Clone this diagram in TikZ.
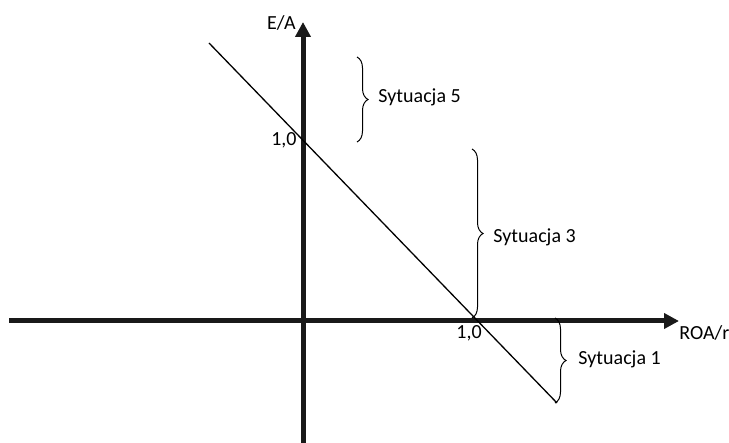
\documentclass[tikz,border=0pt]{standalone}
\usepackage{fontspec}
\setmainfont{Carlito}
\usetikzlibrary{arrows.meta,decorations.pathreplacing}

\begin{document}
\begin{tikzpicture}[x=0.5pt, y=-0.5pt,
  >={Triangle[length=7.5pt,width=7.5pt]},
  axis/.style={line width=2.5pt, black!90},
  sbrace/.style={decorate, decoration={brace, amplitude=5.5pt}, line width=0.5pt},
  lbl/.style={inner sep=0pt, font=\fontsize{10}{12}\selectfont}]
  \useasboundingbox (0,0) rectangle (729,443);

  % Axes
  \coordinate (xmin) at (9,321);
  \coordinate (xmax) at (679,321);
  \coordinate (ymin) at (303,443);
  \coordinate (ymax) at (303,22);
  \draw[axis,->] (xmin) -- (xmax);
  \draw[axis,->] (ymin) -- (ymax);
  \node[lbl, anchor=east] (ylab) at (296,23) {E/A};
  \node[lbl, anchor=west] (xlab) at (679,333) {ROA/r};

  % Line through (0,1) and (1,0)
  \coordinate (lstart) at (209,43);
  \coordinate (lend) at (557,403);
  \draw[line width=0.65pt] (lstart) -- (lend);

  % Unit labels on both axes
  \node[lbl, anchor=east] (yone) at (297,140) {1,0};
  \node[lbl] (xone) at (469,333) {1,0};

  % Braces for the three cases
  \coordinate (b5top) at (357,57);
  \coordinate (b5bot) at (357,142);
  \draw[sbrace] (b5top) -- (b5bot);
  \node[lbl, anchor=west] (s5) at (378,97) {Sytuacja 5};

  \coordinate (b3top) at (472,149);
  \coordinate (b3bot) at (472,318);
  \draw[sbrace] (b3top) -- (b3bot);
  \node[lbl, anchor=west] (s3) at (493,237) {Sytuacja 3};

  \coordinate (b1top) at (555,318);
  \coordinate (b1bot) at (555,403);
  \draw[sbrace] (b1top) -- (b1bot);
  \node[lbl, anchor=west] (s1) at (578,359) {Sytuacja 1};
\end{tikzpicture}
\end{document}
